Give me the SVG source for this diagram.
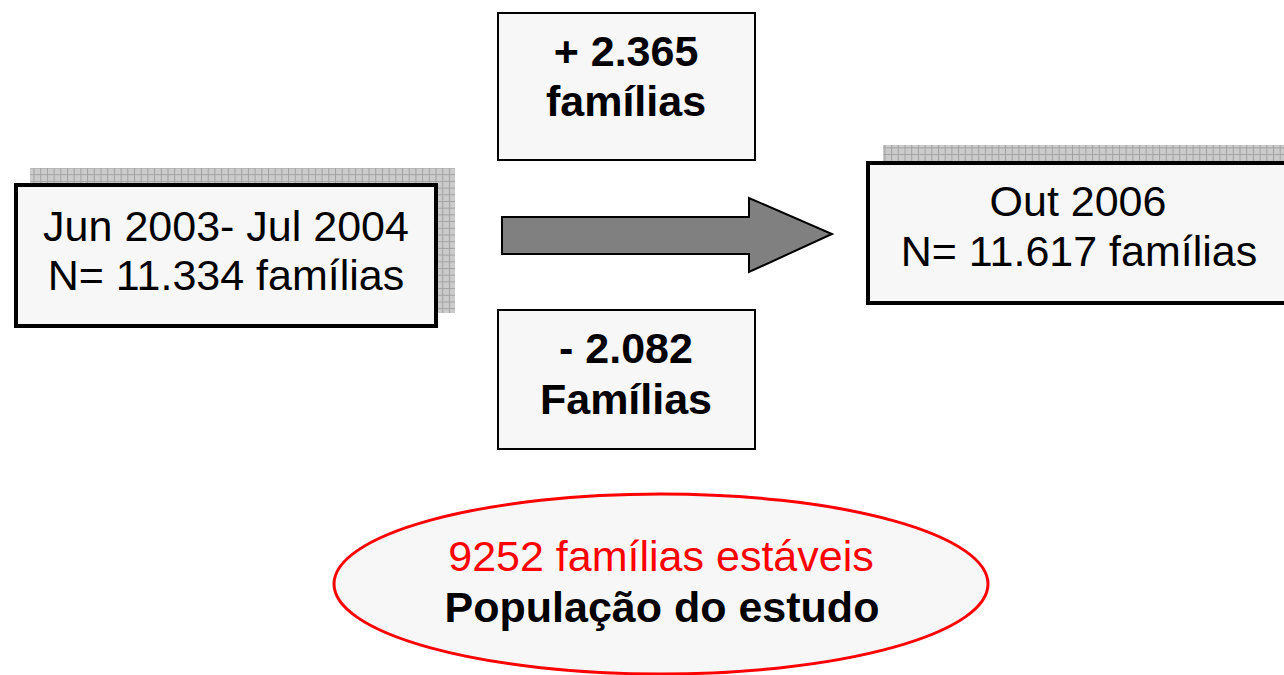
<svg xmlns="http://www.w3.org/2000/svg" width="1284" height="675" viewBox="0 0 1284 675">
<defs>
<pattern id="grid" patternUnits="userSpaceOnUse" width="6.7" height="6.7">
<rect width="6.7" height="6.7" fill="#cbcbcb"/>
<path d="M0 0.5H6.7M0.5 0V6.7" stroke="#a2a2a2" stroke-width="1"/>
</pattern>
<style>
.box{fill:#f7f7f7;stroke:#000;stroke-width:4}
.sbox{fill:#f7f7f7;stroke:#000;stroke-width:2}
.shadow{fill:url(#grid)}
.t{font-family:"Liberation Sans",Arial,sans-serif;font-size:43px;text-anchor:middle;fill:#000}
.b{font-weight:bold}
.red{fill:#ff0000}
</style>
</defs>
<g id="node-start">
<rect class="shadow" x="30" y="168" width="425" height="145"/>
<rect class="box" x="16" y="185" width="420" height="141"/>
<text class="t" x="226" y="241">Jun 2003- Jul 2004</text>
<text class="t" x="226" y="290">N= 11.334 famílias</text>
</g>
<g id="node-end">
<rect class="shadow" x="883" y="145" width="410" height="145"/>
<rect class="box" x="868" y="163" width="430" height="140"/>
<text class="t" x="1078" y="216">Out 2006</text>
<text class="t" x="1079" y="266">N= 11.617 famílias</text>
</g>
<g id="node-plus">
<rect class="sbox" x="498" y="13" width="257" height="147"/>
<text class="t b" x="626" y="66">+ 2.365</text>
<text class="t b" x="626" y="116">famílias</text>
</g>
<g id="node-minus">
<rect class="sbox" x="498" y="310" width="257" height="139"/>
<text class="t b" x="626" y="363">- 2.082</text>
<text class="t b" x="626" y="414">Famílias</text>
</g>
<g id="connectors">
<polygon points="502,217 749,217 749,198 832,234 749,272 749,254 502,254" fill="#808080" stroke="#000" stroke-width="2" stroke-linejoin="miter"/>
</g>
<g id="node-study">
<ellipse cx="661" cy="584" rx="327" ry="90" fill="#f7f7f7" stroke="#ff0000" stroke-width="3"/>
<text class="t red" x="661" y="571">9252 famílias estáveis</text>
<text class="t b" x="662" y="622">População do estudo</text>
</g>
</svg>
